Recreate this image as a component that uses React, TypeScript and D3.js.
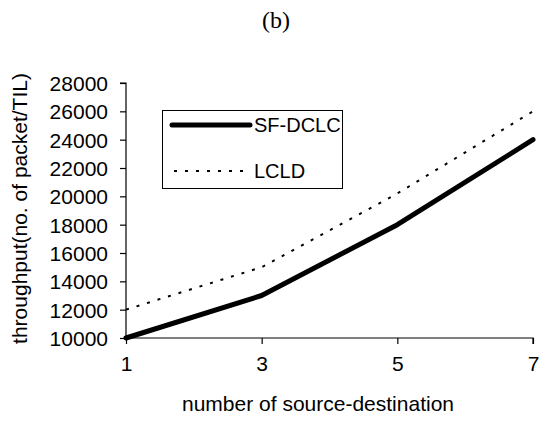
import { useEffect, useRef } from "react";
import * as d3 from "d3";

const xValues = [1, 3, 5, 7];
const sfdclc = [10000, 13000, 18000, 24000];
const lcld = [12000, 15000, 20200, 26000];
const yTicks = [10000, 12000, 14000, 16000, 18000, 20000, 22000, 24000, 26000, 28000];
const seriesNames = ["SF-DCLC", "LCLD"];

const W = 546;
const H = 426;
const FONT = "Liberation Sans, Arial, sans-serif";

function renderChart(el: SVGSVGElement) {
  const svg = d3.select(el);
  svg.selectAll("*").remove();

  const left = 126, right = 533, top = 83, bottom = 338;

  const x = d3.scaleLinear().domain([1, 7]).range([left, right]);
  const y = d3.scaleLinear().domain([10000, 28000]).range([bottom, top]);

  // title
  svg.append("text")
    .attr("x", 276).attr("y", 20)
    .attr("text-anchor", "middle").attr("dominant-baseline", "central")
    .style("font-family", "Liberation Serif, Times New Roman, serif")
    .style("font-size", "24px")
    .text("(b)");

  // y axis
  const yAxis = svg.append("g")
    .attr("transform", `translate(${left},0)`)
    .call(d3.axisLeft(y).tickValues(yTicks).tickSize(6).tickPadding(12).tickFormat(d3.format("d")));
  yAxis.select(".domain").attr("d", `M-6,${top}H0V${bottom}`);
  yAxis.selectAll("text").style("font-family", FONT).style("font-size", "21px").attr("dy", "0.35em");

  // x axis
  const xAxis = svg.append("g")
    .attr("transform", `translate(0,${bottom})`)
    .call(d3.axisBottom(x).tickValues(xValues).tickSize(6).tickPadding(12).tickFormat(d3.format("d")));
  xAxis.select(".domain").attr("d", `M${left},0H${right}V6`);
  xAxis.selectAll("text").style("font-family", FONT).style("font-size", "21px");
  svg.selectAll(".tick line, .domain").attr("stroke", "#000").attr("stroke-width", 1.2);

  const line = d3.line<number>()
    .x((_, i) => x(xValues[i]))
    .y((d) => y(d));

  svg.append("path")
    .datum(lcld)
    .attr("d", line)
    .attr("fill", "none")
    .attr("stroke", "#000")
    .attr("stroke-width", 2)
    .attr("stroke-dasharray", "3,8");

  svg.append("path")
    .datum(sfdclc)
    .attr("d", line)
    .attr("fill", "none")
    .attr("stroke", "#000")
    .attr("stroke-width", 5)
    .attr("stroke-linecap", "round")
    .attr("stroke-linejoin", "round");

  // legend
  const lg = svg.append("g");
  lg.append("rect")
    .attr("x", 162.5).attr("y", 110.5).attr("width", 180).attr("height", 78)
    .attr("fill", "#fff").attr("stroke", "#000").attr("stroke-width", 1);
  lg.append("line")
    .attr("x1", 172).attr("x2", 250).attr("y1", 125).attr("y2", 125)
    .attr("stroke", "#000").attr("stroke-width", 5).attr("stroke-linecap", "round");
  lg.append("line")
    .attr("x1", 174).attr("x2", 249).attr("y1", 171).attr("y2", 171)
    .attr("stroke", "#000").attr("stroke-width", 2).attr("stroke-dasharray", "3,8");
  lg.selectAll("text.lab")
    .data(seriesNames)
    .join("text")
    .attr("class", "lab")
    .attr("x", 254)
    .attr("y", (_, i) => (i === 0 ? 125 : 171))
    .attr("dominant-baseline", "central")
    .style("font-family", FONT)
    .style("font-size", "20px")
    .text((d) => d);

  // axis titles
  svg.append("text")
    .attr("x", 318).attr("y", 403)
    .attr("text-anchor", "middle").attr("dominant-baseline", "central")
    .style("font-family", FONT).style("font-size", "21px")
    .text("number of source-destination");

  svg.append("text")
    .attr("transform", `translate(19,${(top + bottom) / 2 - 2}) rotate(-90)`)
    .attr("text-anchor", "middle").attr("dominant-baseline", "central")
    .style("font-family", FONT).style("font-size", "21px")
    .text("throughput(no. of packet/TIL)");
}

export default function App() {
  const ref = useRef<SVGSVGElement>(null);
  useEffect(() => {
    if (ref.current) renderChart(ref.current);
  }, []);
  return (
    <svg
      ref={ref}
      width={W}
      height={H}
      style={{ position: "absolute", left: 0, top: 0, background: "#fff" }}
    />
  );
}
